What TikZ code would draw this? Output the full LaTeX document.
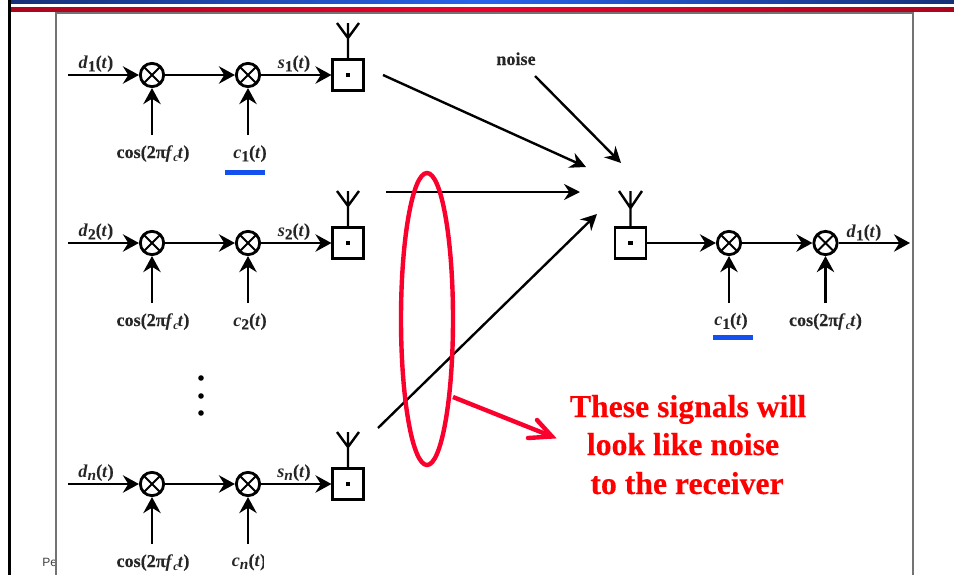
\documentclass[tikz,border=0pt]{standalone}
\usepackage{fontspec}
\setmainfont[BoldFeatures={FakeBold=0.35}]{Liberation Serif}
\newfontfamily\sansf{Liberation Sans}
\usetikzlibrary{arrows.meta,calc,shapes.geometric}
\definecolor{navy}{RGB}{22,48,120}
\definecolor{brightblue}{RGB}{40,100,235}
\definecolor{darkred}{RGB}{170,5,30}
\definecolor{brightred}{RGB}{235,0,45}
\definecolor{barblue}{RGB}{20,80,240}
\definecolor{sigred}{RGB}{250,0,45}
\tikzset{
 x=0.75pt,y=-0.75pt,
 sig/.style={line width=2.1pt,-{Stealth[length=12pt,width=13pt,inset=4pt]}},
 thin sig/.style={line width=1.8pt,-{Stealth[length=12pt,width=12pt,inset=4pt]}},
 mixer/.style={circle,draw,line width=2.1pt,fill=white,minimum size=17.5pt,inner sep=0pt,
   path picture={\draw[line width=1.5pt] (path picture bounding box.south west)--(path picture bounding box.north east)
     (path picture bounding box.north west)--(path picture bounding box.south east);}},
 antbox/.style={rectangle,draw,line width=1.8pt,fill=white,minimum size=23pt,inner sep=0pt},
 ant/.style={line width=1.8pt},
 lab/.style={font=\bfseries\fontsize{13.6}{15}\selectfont,text=black!85,inner sep=0pt,anchor=base},
 bar/.style={fill=barblue,draw=none},
 big/.style={font=\bfseries\fontsize{23.8}{26}\selectfont,text=red,inner sep=0pt,anchor=base},
 vdot/.style={circle,fill=black,inner sep=0pt,minimum size=4.2pt},
}
\newcommand{\sgl}[2]{\textit{#1}\raisebox{-2.5pt}{\fontsize{11.5}{11}\selectfont #2}(\textit{t})}
\newcommand{\cosl}{cos(2π\textit{f}\raisebox{-2.5pt}{\fontsize{9}{9}\selectfont\itshape c}\kern-0.5pt\textit{t})}
\begin{document}
\begin{tikzpicture}
\useasboundingbox (0,0) rectangle (954,575);
\fill[white] (0,0) rectangle (954,575);
% slide furniture
\shade[left color=navy,right color=brightblue] (10,0) rectangle (482,3);
\shade[left color=brightblue,right color=navy] (482,0) rectangle (954,3);
\shade[left color=darkred,right color=brightred] (10,7) rectangle (482,11);
\shade[left color=brightred,right color=darkred] (482,7) rectangle (954,11);
\fill[black] (8,0) rectangle (11,575);
\node[font=\sansf\fontsize{9}{10}\selectfont,text=black!75,anchor=west,inner sep=0pt] (pe) at (42,562) {Pe};
\fill[white] (56,13) rectangle (913,575);
\draw[black!55,line width=1.1pt] (56,575)--(56,13)--(913,13)--(913,575);
% rows
\foreach \r/\y/\sub in {a/75/1,b/243/2,c/484/\textit{n}}{
  \coordinate (\r in) at (68,\y);
  \node[mixer] (\r m1) at (152,\y) {};
  \node[mixer] (\r m2) at (248,\y) {};
  \node[antbox] (\r box) at (348,\y) {};
  \node[rectangle,fill=black,inner sep=0pt,minimum size=3.2pt] (\r dot) at (348,\y) {};
  \coordinate (\r top) at (348,\y-52);
  \coordinate (\r l) at (337,\y-52);
  \coordinate (\r r) at (359,\y-52);
  \coordinate (\r j) at (348,\y-37);
  \draw[ant] (\r box.north)--(\r top) (\r l)--(\r j)--(\r r);
  \draw[sig] (\r in)--(\r m1);
  \draw[sig] (\r m1)--(\r m2);
  \draw[sig] (\r m2)--(\r box);
  \coordinate (\r f1) at (152,\y+60);
  \coordinate (\r f2) at (248,\y+60);
  \draw[sig] (\r f1)--(\r m1);
  \draw[sig] (\r f2)--(\r m2);
  \node[lab] (\r d) at (96,\y-7) {\sgl{d}{\sub}};
  \node[lab] (\r s) at (294,\y-7) {\sgl{s}{\sub}};
  \node[lab] (\r cos) at (153,\y+83) {\cosl};
}
\node[lab] (ac) at (250,158) {\sgl{c}{1}};
\node[lab] (bc) at (250,326) {\sgl{c}{2}};
\node[lab] (cc) at (249,566.5) {\sgl{c}{\textit{n}}};
\fill[white] (264,548) rectangle (276,572);
\fill[bar] (225,170) rectangle (265,175);
\node[vdot] (v1) at (201,378) {};
\node[vdot] (v2) at (201,396) {};
\node[vdot] (v3) at (201,413) {};
% receiver
\node[antbox] (rbox) at (630.5,243) {};
\node[rectangle,fill=black,inner sep=0pt,minimum size=3.2pt] (rdot) at (630.5,243) {};
\coordinate (rtop) at (630.5,191);
\coordinate (rl) at (619,191);
\coordinate (rr) at (642,191);
\coordinate (rj) at (630.5,208);
\draw[ant] (rbox.north)--(rtop) (rl)--(rj)--(rr);
\node[mixer] (rm1) at (729,243) {};
\node[mixer] (rm2) at (825.5,243) {};
\coordinate (rout) at (910,243);
\coordinate (rf1) at (729,303);
\coordinate (rf2) at (825.5,303);
\draw[sig] (rbox)--(rm1);
\draw[sig] (rm1)--(rm2);
\draw[sig] (rm2)--(rout);
\draw[sig] (rf1)--(rm1);
\draw[sig] (rf2)--(rm2);
\node[lab] (rd) at (864,237) {\sgl{d}{1}};
\node[lab] (rc) at (731,325.5) {\sgl{c}{1}};
\node[lab] (rcos) at (825.5,326) {\cosl};
\fill[bar] (713,335) rectangle (753,340);
% channel
\node[lab] (noise) at (516,65) {noise};
\coordinate (n0) at (535,76);
\coordinate (n1) at (621,163);
\coordinate (t10) at (383,75);
\coordinate (t11) at (586,167);
\coordinate (t20) at (386,192);
\coordinate (t21) at (580,192);
\coordinate (t30) at (378,428);
\coordinate (t31) at (597,214);
\draw[thin sig] (n0)--(n1);
\draw[thin sig] (t10)--(t11);
\draw[thin sig] (t20)--(t21);
\draw[thin sig] (t30)--(t31);
% annotation
\node[ellipse,draw=sigred,line width=3.3pt,minimum width=39pt,minimum height=219pt,inner sep=0pt] (ell) at (427,319) {};
\coordinate (a0) at (453,397);
\coordinate (a1) at (552,436.5);
\coordinate (ab1) at (537,420);
\coordinate (ab2) at (528,438);
\draw[sigred,line width=3.3pt] (a0)--(a1);
\draw[sigred,line width=3.3pt,line cap=round,line join=miter] (ab1)--(a1)--(ab2);
\node[big] (t1) at (688,417) {These signals will};
\node[big] (t2) at (683,455) {look like noise};
\node[big] (t3) at (687,494) {to the receiver};
\end{tikzpicture}
\end{document}
